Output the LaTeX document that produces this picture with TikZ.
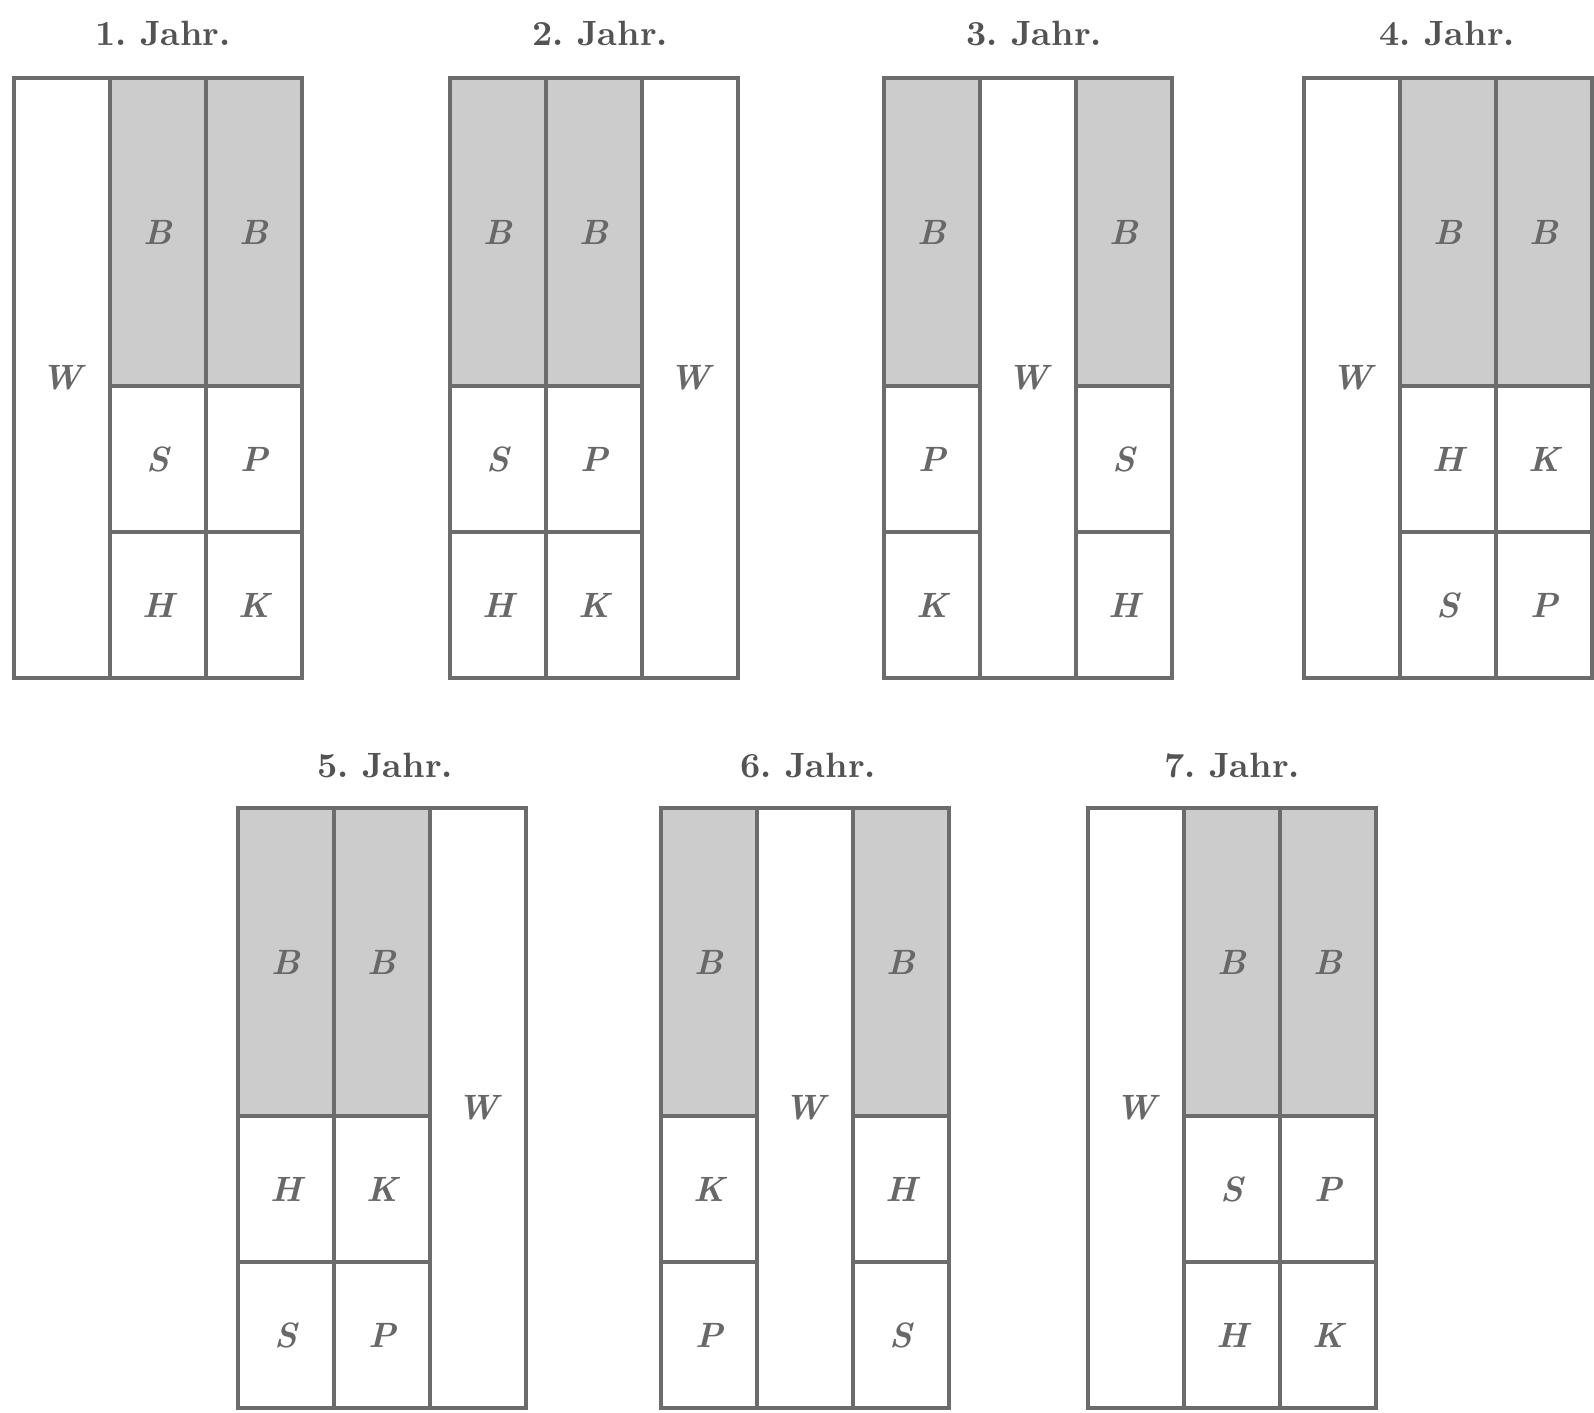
\documentclass[tikz,border=0pt]{standalone}
\usepackage{xcolor}
\definecolor{linegray}{RGB}{108,108,108}
\definecolor{beangray}{RGB}{204,204,204}
\definecolor{inkgray}{RGB}{104,104,104}

\begin{document}
\begin{tikzpicture}[
  every node/.style={font=\bfseries\itshape, text=inkgray},
  parcel/.style={draw=linegray, line width=1.3pt, inner sep=0pt, outer sep=0pt, minimum width=0.96cm},
  strip/.style={parcel, minimum height=6cm},
  bean/.style={parcel, minimum height=3.08cm, fill=beangray},
  half/.style={parcel, minimum height=1.46cm},
  yeartitle/.style={font=\bfseries, text=inkgray!80!black}]
  \useasboundingbox (0,0) rectangle (15.94,14.12);

  % first row
  \node[yeartitle] (t1) at (1.63,13.78) {1.\ Jahr.};
  \node[strip] (w1) at (0.62,10.34) {W};
  \node[bean] (b1a) at (1.58,11.80) {B};
  \node[bean] (b1b) at (2.54,11.80) {B};
  \node[half] (s1) at (1.58,9.53) {S};
  \node[half] (p1) at (2.54,9.53) {P};
  \node[half] (h1) at (1.58,8.07) {H};
  \node[half] (k1) at (2.54,8.07) {K};

  \node[yeartitle] (t2) at (6.00,13.78) {2.\ Jahr.};
  \node[bean] (b2a) at (4.98,11.80) {B};
  \node[bean] (b2b) at (5.94,11.80) {B};
  \node[strip] (w2) at (6.90,10.34) {W};
  \node[half] (s2) at (4.98,9.53) {S};
  \node[half] (p2) at (5.94,9.53) {P};
  \node[half] (h2) at (4.98,8.07) {H};
  \node[half] (k2) at (5.94,8.07) {K};

  \node[yeartitle] (t3) at (10.34,13.78) {3.\ Jahr.};
  \node[bean] (b3a) at (9.32,11.80) {B};
  \node[strip] (w3) at (10.28,10.34) {W};
  \node[bean] (b3b) at (11.24,11.80) {B};
  \node[half] (p3) at (9.32,9.53) {P};
  \node[half] (k3) at (9.32,8.07) {K};
  \node[half] (s3) at (11.24,9.53) {S};
  \node[half] (h3) at (11.24,8.07) {H};

  \node[yeartitle] (t4) at (14.47,13.78) {4.\ Jahr.};
  \node[strip] (w4) at (13.52,10.34) {W};
  \node[bean] (b4a) at (14.48,11.80) {B};
  \node[bean] (b4b) at (15.44,11.80) {B};
  \node[half] (h4) at (14.48,9.53) {H};
  \node[half] (k4) at (15.44,9.53) {K};
  \node[half] (s4) at (14.48,8.07) {S};
  \node[half] (p4) at (15.44,8.07) {P};

  % second row
  \node[yeartitle] (t5) at (3.85,6.46) {5.\ Jahr.};
  \node[bean] (b5a) at (2.86,4.50) {B};
  \node[bean] (b5b) at (3.82,4.50) {B};
  \node[strip] (w5) at (4.78,3.04) {W};
  \node[half] (h5) at (2.86,2.23) {H};
  \node[half] (k5) at (3.82,2.23) {K};
  \node[half] (s5) at (2.86,0.77) {S};
  \node[half] (p5) at (3.82,0.77) {P};

  \node[yeartitle] (t6) at (8.08,6.46) {6.\ Jahr.};
  \node[bean] (b6a) at (7.09,4.50) {B};
  \node[strip] (w6) at (8.05,3.04) {W};
  \node[bean] (b6b) at (9.01,4.50) {B};
  \node[half] (k6) at (7.09,2.23) {K};
  \node[half] (p6) at (7.09,0.77) {P};
  \node[half] (h6) at (9.01,2.23) {H};
  \node[half] (s6) at (9.01,0.77) {S};

  \node[yeartitle] (t7) at (12.32,6.46) {7.\ Jahr.};
  \node[strip] (w7) at (11.36,3.04) {W};
  \node[bean] (b7a) at (12.32,4.50) {B};
  \node[bean] (b7b) at (13.28,4.50) {B};
  \node[half] (s7) at (12.32,2.23) {S};
  \node[half] (p7) at (13.28,2.23) {P};
  \node[half] (h7) at (12.32,0.77) {H};
  \node[half] (k7) at (13.28,0.77) {K};
\end{tikzpicture}
\end{document}
